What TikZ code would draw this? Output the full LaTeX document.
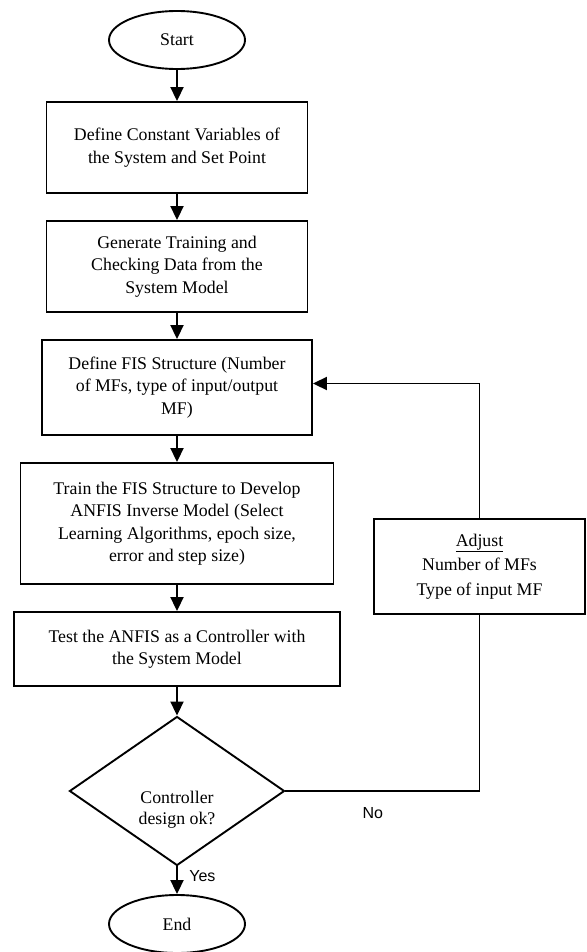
\documentclass[tikz,border=0pt]{standalone}
\usepackage{fontspec}
\setmainfont{Liberation Serif}
\newfontfamily\labelfont{Liberation Sans}
\usetikzlibrary{shapes.geometric, arrows.meta}

\begin{document}
\begin{tikzpicture}
        [x=1pt, y=-1pt,
        box/.style={rectangle, draw, line width=1.9pt, align=center, inner sep=0pt,
            font=\fontsize{17.8}{22.5}\selectfont},
        term/.style={ellipse, draw, line width=1.9pt, inner sep=0pt,
            minimum width=136pt, minimum height=58pt, font=\fontsize{17.8}{22.5}\selectfont},
        decision/.style={diamond, draw, line width=1.9pt, inner sep=0pt,
            minimum width=215pt, minimum height=149pt},
        edge/.style={line width=1.9pt, black},
        arrow/.style={edge, -{Triangle[length=14pt, width=13pt]}},
        answer/.style={font=\labelfont\fontsize{16}{18}\selectfont}]

        \useasboundingbox (0,0) rectangle (586,952);

        \node[term] (start) at (177,40) {Start};
        \node[box, minimum width=261pt, minimum height=91pt] (const) at (177,147.5)
            {Define Constant Variables of\\the System and Set Point};
        \node[box, minimum width=261pt, minimum height=91pt] (data) at (177,266.5)
            {Generate Training and\\Checking Data from the\\System Model};
        \node[box, minimum width=270pt, minimum height=95pt] (fis) at (177,387.5)
            {Define FIS Structure (Number\\of MFs, type of input/output\\MF)};
        \node[box, minimum width=313pt, minimum height=121pt] (train) at (177,523.5)
            {Train the FIS Structure to Develop\\ANFIS Inverse Model (Select\\Learning Algorithms, epoch size,\\error and step size)};
        \node[box, minimum width=326pt, minimum height=74pt] (test) at (177,649)
            {Test the ANFIS as a Controller with\\the System Model};
        \node[decision, label={[yshift=-19pt, align=center,
            font=\fontsize{17.8}{21}\selectfont]center:Controller\\design ok?}] (ok) at (177,791) {};
        \node[term] (end) at (177,924) {End};

        % side box on the feedback path
        \node[box, minimum width=211pt, minimum height=95pt,
            font=\fontsize{17.8}{24.5}\selectfont] (adjust) at (479.5,566.5)
            {\underline{Adjust}\\Number of MFs\\Type of input MF};

        \draw[arrow] (start) -- (const);
        \draw[arrow] (const) -- (data);
        \draw[arrow] (data) -- (fis);
        \draw[arrow] (fis) -- (train);
        \draw[arrow] (train) -- (test);
        \draw[arrow] (test) -- (ok);
        \draw[arrow] (ok) -- (end) node[answer, pos=0.35, right=8pt] {Yes};

        % No: back to the FIS structure
        \draw[edge] (ok.east) -- (ok.east -| adjust.south)
            node[answer, pos=0.45, below=12pt] {No} -- (adjust.south);
        \draw[arrow] (adjust.north) |- ([yshift=4pt]fis.east);
    \end{tikzpicture}
\end{document}
